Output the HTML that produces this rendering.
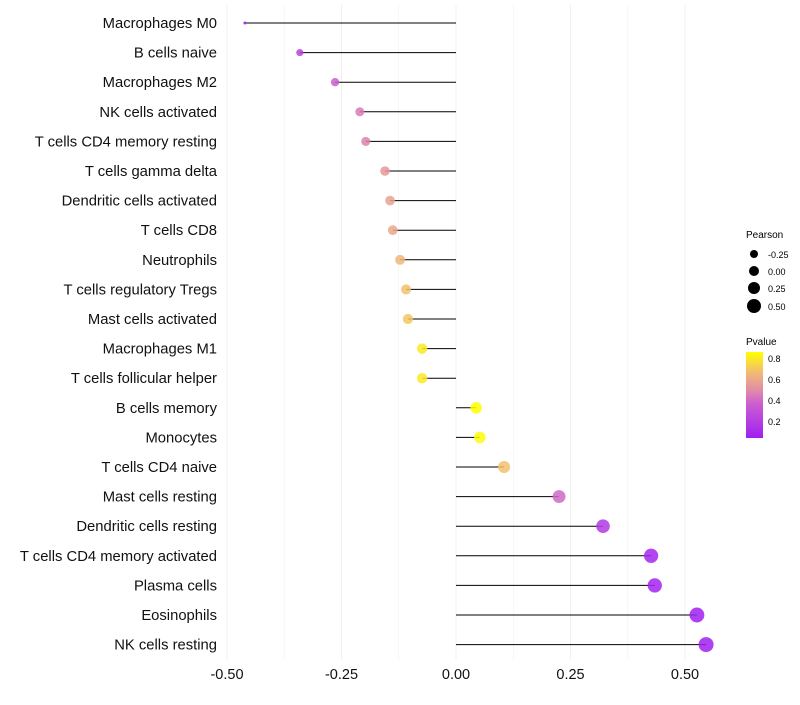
<!DOCTYPE html>
<html><head><meta charset="utf-8"><style>
body{margin:0;background:#fff;font-family:"Liberation Sans",sans-serif}
svg text{font-family:"Liberation Sans",sans-serif}
</style></head><body>
<svg id="chart" width="800" height="700">
<defs><linearGradient id="pg" x1="0" y1="1" x2="0" y2="0">
<stop offset="0" stop-color="#a020f0"/><stop offset="0.4" stop-color="#cc5fd0"/><stop offset="0.55" stop-color="#e08aa8"/><stop offset="0.75" stop-color="#f0b878"/><stop offset="1" stop-color="#ffff00"/></linearGradient></defs>
<g id="grid"></g><g id="marks"></g><g id="axes"></g>
<g>
<text x="746" y="238" font-size="10">Pearson</text>
<circle cx="754" cy="254" r="4" fill="#000"/><text x="768" y="258" font-size="9">-0.25</text>
<circle cx="754" cy="271" r="5" fill="#000"/><text x="768" y="275" font-size="9">0.00</text>
<circle cx="754" cy="288" r="6" fill="#000"/><text x="768" y="292" font-size="9">0.25</text>
<circle cx="754" cy="306" r="7" fill="#000"/><text x="768" y="310" font-size="9">0.50</text>
<text x="746" y="345" font-size="10">Pvalue</text>
<rect x="746" y="352" width="17" height="86" fill="url(#pg)"/>
<text x="768" y="362" font-size="9">0.8</text>
<text x="768" y="383" font-size="9">0.6</text>
<text x="768" y="404" font-size="9">0.4</text>
<text x="768" y="425" font-size="9">0.2</text>
</g>
</svg>
<script>
const categories=["Macrophages M0","B cells naive","Macrophages M2","NK cells activated","T cells CD4 memory resting","T cells gamma delta","Dendritic cells activated","T cells CD8","Neutrophils","T cells regulatory  Tregs ","Mast cells activated","Macrophages M1","T cells follicular helper","B cells memory","Monocytes","T cells CD4 naive","Mast cells resting","Dendritic cells resting","T cells CD4 memory activated","Plasma cells","Eosinophils","NK cells resting"];
const pearson=[-0.461,-0.341,-0.264,-0.210,-0.197,-0.155,-0.144,-0.138,-0.122,-0.109,-0.105,-0.074,-0.074,0.044,0.052,0.105,0.225,0.321,0.426,0.434,0.526,0.546];
const pvalue=[0.05,0.22,0.36,0.45,0.47,0.55,0.58,0.6,0.65,0.68,0.7,0.8,0.8,0.86,0.85,0.68,0.4,0.18,0.08,0.07,0.03,0.02];
const xTicks=[-0.5,-0.25,0,0.25,0.5];
const xTickLabels=["-0.50","-0.25","0.00","0.25","0.50"];
const NS="http://www.w3.org/2000/svg";
const xs=v=>456+v*458;
const ys=i=>23+i*29.6;
function col(p){const t=Math.max(0,Math.min(1,(p-0.05)/0.81));
const st=[[0,[160,32,240]],[0.4,[204,95,208]],[0.55,[224,138,168]],[0.75,[240,184,120]],[1,[255,255,0]]];
for(let k=1;k<st.length;k++){if(t<=st[k][0]){const a=st[k-1],b=st[k],f=(t-a[0])/(b[0]-a[0]);return "rgb("+a[1].map((c,j)=>Math.round(c+(b[1][j]-c)*f)).join(",")+")";}}return "rgb(255,255,0)";}
function mk(t,a,p){const e=document.createElementNS(NS,t);for(const k in a)e.setAttribute(k,a[k]);p.appendChild(e);return e;}
const g=document.getElementById("grid"),m=document.getElementById("marks"),ax=document.getElementById("axes");
for(let v=-0.5;v<=0.551;v+=0.125){const l=mk("line",{x1:xs(v),x2:xs(v),y1:5,y2:660,stroke:"#f0f0f0","stroke-width":Math.abs((v*4)%1)<0.01?1:0.6},g);

}
xTicks.forEach((v,i)=>{const t=mk("text",{x:xs(v),y:679,"font-size":14.5,"text-anchor":"middle",fill:"#111"},ax);t.textContent=xTickLabels[i];

});
const pmin=Math.min(...pearson),pmax=Math.max(...pearson);
categories.forEach((c,i)=>{const y=ys(i);
const t=mk("text",{x:217,y:y+5,"font-size":14.8,"text-anchor":"end",fill:"#111"},ax);t.textContent=c;


const l=mk("line",{x1:xs(0),x2:xs(pearson[i]),y1:y,y2:y,stroke:"#000","stroke-width":1},m);


const size=1+5*Math.sqrt((pearson[i]-pmin)/(pmax-pmin));
const ci=mk("circle",{cx:xs(pearson[i]),cy:y,r:0.3+1.2*size,fill:col(pvalue[i]),"fill-opacity":0.85},m);

});
</script>
</body></html>
